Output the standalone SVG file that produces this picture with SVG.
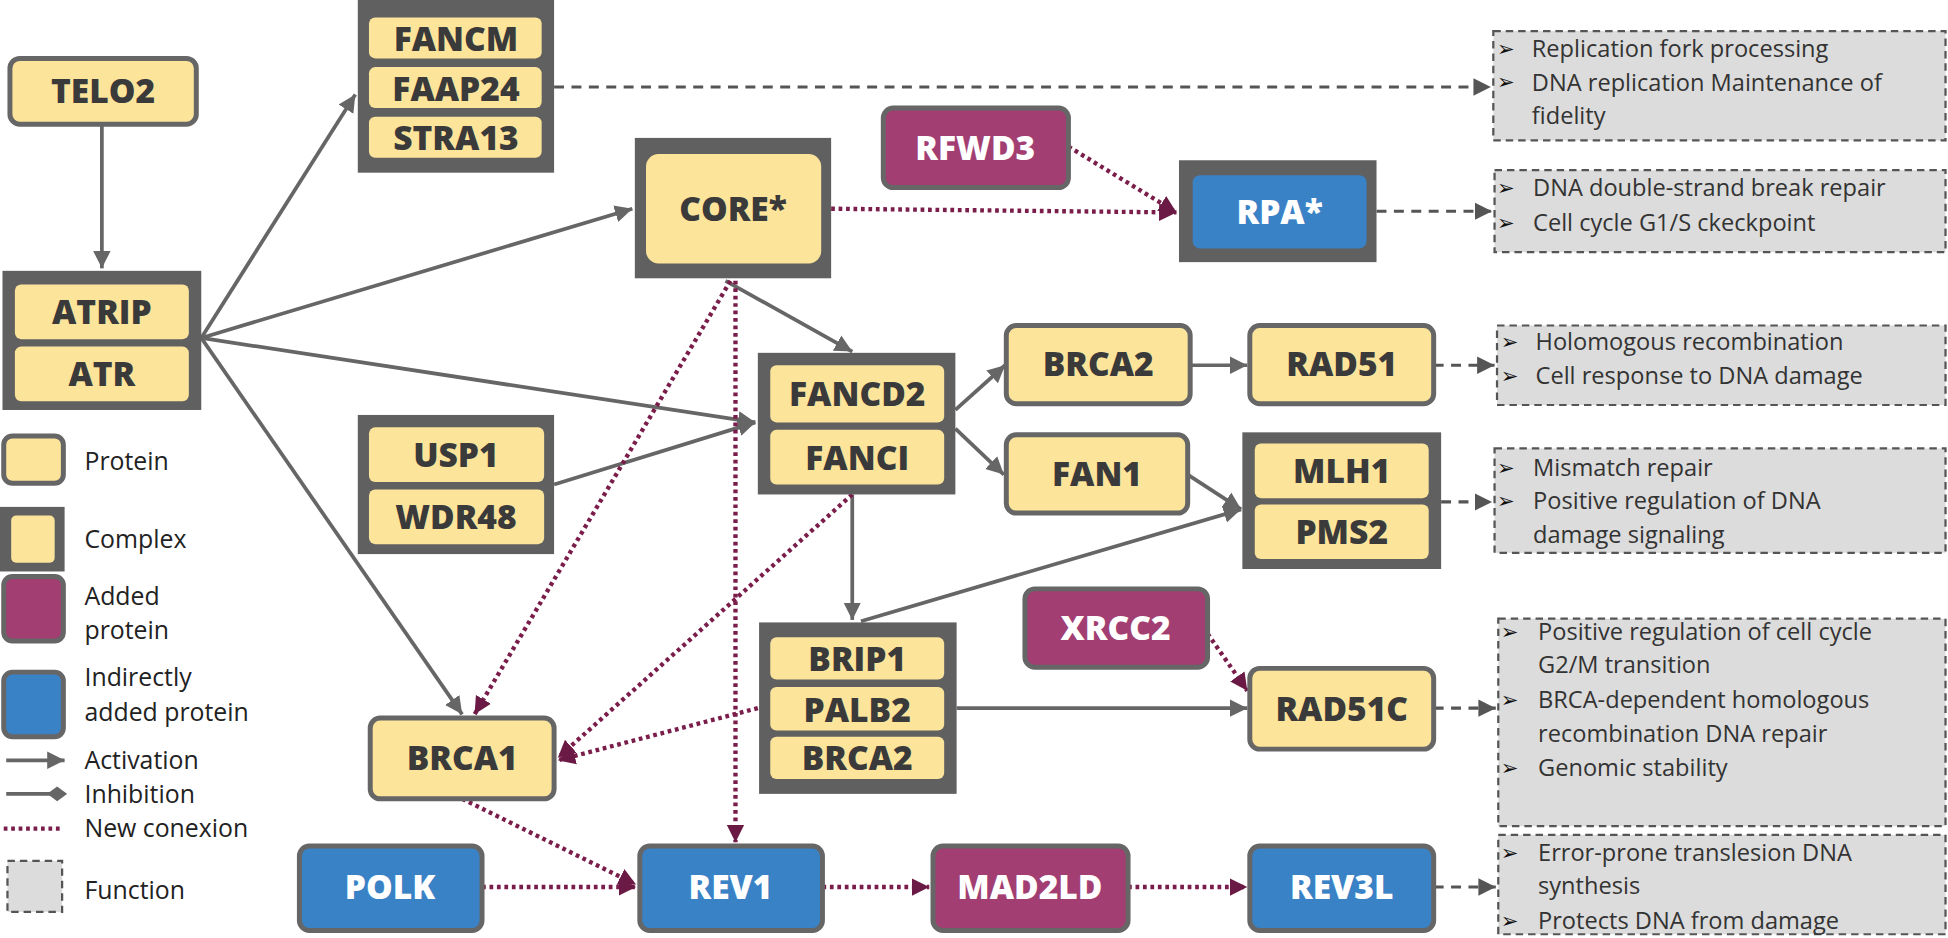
<svg xmlns="http://www.w3.org/2000/svg" width="1948" height="938" viewBox="0 0 1948 938">
<defs>
<style>
.p{fill:#fde49b;stroke:#666;stroke-width:4}
.in{fill:#fde49b;stroke:none}
.cx{fill:#606060}
.ad{fill:#a23e72;stroke:#666;stroke-width:4}
.bl{fill:#3a82c6;stroke:#666;stroke-width:4}
.blin{fill:#3a82c6}
.t{font-family:"Open Sans",sans-serif;font-weight:800;font-size:27px;fill:#3a3a3a;text-anchor:middle}
.tw{font-family:"Open Sans",sans-serif;font-weight:800;font-size:27px;fill:#fff;text-anchor:middle}
.fb{fill:#dcdcdc;stroke:#555;stroke-width:1.8;stroke-dasharray:6 4}
.ft{font-family:"Open Sans",sans-serif;font-size:19px;fill:#333}
.bu{font-family:"DejaVu Sans",sans-serif;font-size:17px;fill:#111}
.lg{font-family:"Open Sans",sans-serif;font-size:20px;fill:#222}
.a{stroke:#666;stroke-width:3;fill:none;marker-end:url(#ma)}
.d{stroke:#7a1d4a;stroke-width:3.5;fill:none;stroke-dasharray:3 3;marker-end:url(#md)}
.f{stroke:#555;stroke-width:2.5;fill:none;stroke-dasharray:8 6;marker-end:url(#mf)}
</style>
<marker id="ma" markerUnits="userSpaceOnUse" markerWidth="16" markerHeight="16" refX="14" refY="8" orient="auto"><path d="M0,1 L14,8 L0,15 Z" fill="#666"/></marker>
<marker id="md" markerUnits="userSpaceOnUse" markerWidth="16" markerHeight="16" refX="14" refY="8" orient="auto"><path d="M0,1 L14,8 L0,15 Z" fill="#6b1a45"/></marker>
<marker id="mf" markerUnits="userSpaceOnUse" markerWidth="16" markerHeight="16" refX="14" refY="8" orient="auto"><path d="M0,1 L14,8 L0,15 Z" fill="#555"/></marker>
<marker id="mi" markerUnits="userSpaceOnUse" markerWidth="16" markerHeight="16" refX="8" refY="8" orient="auto"><path d="M0,8 L8,2 L16,8 L8,14 Z" fill="#666"/></marker>
</defs>
<rect width="1948" height="938" fill="#fff"/>
<g transform="scale(1.24235)">
<g id="connectors">
<line class="a" x1="82" y1="100" x2="82" y2="216"/>
<line class="a" x1="162" y1="272" x2="286" y2="76"/>
<line class="a" x1="162" y1="272" x2="509" y2="168"/>
<line class="a" x1="162" y1="272" x2="608" y2="340"/>
<line class="a" x1="162" y1="272" x2="372" y2="575"/>
<line class="a" x1="446" y1="390" x2="608" y2="340"/>
<line class="a" x1="584" y1="226" x2="686" y2="283"/>
<line class="a" x1="769" y1="330" x2="809" y2="294"/>
<line class="a" x1="769" y1="345" x2="808" y2="382"/>
<line class="a" x1="958" y1="294" x2="1004" y2="294"/>
<line class="a" x1="956" y1="382" x2="999" y2="410"/>
<line class="a" x1="686" y1="398" x2="686" y2="499"/>
<line class="a" x1="693" y1="500" x2="999" y2="410"/>
<line class="a" x1="770" y1="570" x2="1004" y2="570"/>
<line class="f" x1="446" y1="70" x2="1200" y2="70"/>
<line class="f" x1="1108" y1="170" x2="1201" y2="170"/>
<line class="f" x1="1154" y1="294" x2="1203" y2="294"/>
<line class="f" x1="1160" y1="404" x2="1201" y2="404"/>
<line class="f" x1="1154" y1="570" x2="1204" y2="570"/>
<line class="f" x1="1154" y1="714" x2="1204" y2="714"/>
<line class="d" x1="669" y1="168" x2="947" y2="171"/>
<line class="d" x1="860" y1="118" x2="947" y2="171"/>
<line class="d" x1="588" y1="226" x2="382" y2="575"/>
<line class="d" x1="592" y1="226" x2="592" y2="678"/>
<line class="d" x1="686" y1="398" x2="449" y2="610"/>
<line class="d" x1="610" y1="570" x2="449" y2="612"/>
<line class="d" x1="972" y1="510" x2="1004" y2="556"/>
<line class="d" x1="372" y1="643" x2="512" y2="712"/>
<line class="d" x1="388" y1="714" x2="512" y2="714"/>
<line class="d" x1="662" y1="714" x2="748" y2="714"/>
<line class="d" x1="908" y1="714" x2="1004" y2="714"/>
</g>
<g id="TELO2"><rect class="p" x="8" y="47" width="150" height="53" rx="8"/><text class="t" x="83" y="83">TELO2</text></g>
<g id="ATRIP_ATR"><rect class="cx" x="2" y="218" width="160" height="112"/>
<rect class="in" x="12" y="229" width="140" height="44" rx="5"/><text class="t" x="82" y="261">ATRIP</text>
<rect class="in" x="12" y="279" width="140" height="44" rx="5"/><text class="t" x="82" y="311">ATR</text></g>
<g id="FANCM_complex"><rect class="cx" x="288" y="0" width="158" height="139"/>
<rect class="in" x="297" y="14" width="139" height="33" rx="5"/><text class="t" x="367" y="41">FANCM</text>
<rect class="in" x="297" y="54" width="139" height="33" rx="5"/><text class="t" x="367" y="81">FAAP24</text>
<rect class="in" x="297" y="94" width="139" height="33" rx="5"/><text class="t" x="367" y="121">STRA13</text></g>
<g id="CORE"><rect class="cx" x="511" y="111" width="158" height="113"/><rect class="in" x="520" y="124" width="141" height="88" rx="10"/><text class="t" x="590" y="178">CORE*</text></g>
<g id="RFWD3"><rect class="ad" x="711" y="87" width="149" height="64" rx="8"/><text class="tw" x="785" y="129">RFWD3</text></g>
<g id="RPA"><rect class="cx" x="949" y="129" width="159" height="82"/><rect class="blin" x="960" y="141" width="140" height="59" rx="6"/><text class="tw" x="1030" y="180">RPA*</text></g>
<g id="FANCD2_FANCI"><rect class="cx" x="610" y="284" width="159" height="114"/>
<rect class="in" x="620" y="294" width="140" height="46" rx="5"/><text class="t" x="690" y="327">FANCD2</text>
<rect class="in" x="620" y="346" width="140" height="44" rx="5"/><text class="t" x="690" y="378">FANCI</text></g>
<g id="USP1_WDR48"><rect class="cx" x="288" y="334" width="158" height="112"/>
<rect class="in" x="297" y="344" width="141" height="44" rx="5"/><text class="t" x="367" y="376">USP1</text>
<rect class="in" x="297" y="394" width="141" height="44" rx="5"/><text class="t" x="367" y="426">WDR48</text></g>
<g id="BRCA2"><rect class="p" x="810" y="262" width="148" height="63" rx="8"/><text class="t" x="884" y="303">BRCA2</text></g>
<g id="RAD51"><rect class="p" x="1006" y="262" width="148" height="63" rx="8"/><text class="t" x="1080" y="303">RAD51</text></g>
<g id="FAN1"><rect class="p" x="810" y="350" width="146" height="63" rx="8"/><text class="t" x="883" y="391">FAN1</text></g>
<g id="MLH1_PMS2"><rect class="cx" x="1000" y="348" width="160" height="110"/>
<rect class="in" x="1010" y="357" width="140" height="44" rx="5"/><text class="t" x="1080" y="389">MLH1</text>
<rect class="in" x="1010" y="406" width="140" height="44" rx="5"/><text class="t" x="1080" y="438">PMS2</text></g>
<g id="BRIP1_complex"><rect class="cx" x="611" y="501" width="159" height="138"/>
<rect class="in" x="620" y="513" width="140" height="34" rx="5"/><text class="t" x="690" y="540">BRIP1</text>
<rect class="in" x="620" y="553" width="140" height="35" rx="5"/><text class="t" x="690" y="581">PALB2</text>
<rect class="in" x="620" y="593" width="140" height="34" rx="5"/><text class="t" x="690" y="620">BRCA2</text></g>
<g id="XRCC2"><rect class="ad" x="825" y="474" width="147" height="63" rx="8"/><text class="tw" x="898" y="515">XRCC2</text></g>
<g id="RAD51C"><rect class="p" x="1006" y="538" width="148" height="65" rx="8"/><text class="t" x="1080" y="580">RAD51C</text></g>
<g id="BRCA1"><rect class="p" x="298" y="578" width="148" height="65" rx="8"/><text class="t" x="372" y="620">BRCA1</text></g>
<g id="POLK"><rect class="bl" x="241" y="681" width="147" height="68" rx="8"/><text class="tw" x="314" y="724">POLK</text></g>
<g id="REV1"><rect class="bl" x="515" y="681" width="147" height="68" rx="8"/><text class="tw" x="588" y="724">REV1</text></g>
<g id="MAD2LD"><rect class="ad" x="751" y="681" width="157" height="68" rx="8"/><text class="tw" x="829" y="724">MAD2LD</text></g>
<g id="REV3L"><rect class="bl" x="1006" y="681" width="148" height="68" rx="8"/><text class="tw" x="1080" y="724">REV3L</text></g>
<g id="F1"><rect class="fb" x="1202" y="25" width="364" height="88"/>
<text class="bu" x="1205" y="45">➢</text><text class="ft" x="1233" y="46">Replication fork processing</text>
<text class="bu" x="1205" y="72">➢</text><text class="ft" x="1233" y="73">DNA replication Maintenance of</text>
<text class="ft" x="1233" y="100">fidelity</text></g>
<g id="F2"><rect class="fb" x="1203" y="137" width="363" height="66"/>
<text class="bu" x="1205" y="157">➢</text><text class="ft" x="1234" y="158">DNA double-strand break repair</text>
<text class="bu" x="1205" y="185">➢</text><text class="ft" x="1234" y="186">Cell cycle G1/S ckeckpoint</text></g>
<g id="F3"><rect class="fb" x="1205" y="262" width="361" height="64"/>
<text class="bu" x="1208" y="281">➢</text><text class="ft" x="1236" y="282">Holomogous recombination</text>
<text class="bu" x="1208" y="308">➢</text><text class="ft" x="1236" y="309">Cell response to DNA damage</text></g>
<g id="F4"><rect class="fb" x="1203" y="361" width="363" height="84"/>
<text class="bu" x="1205" y="382">➢</text><text class="ft" x="1234" y="383">Mismatch repair</text>
<text class="bu" x="1205" y="409">➢</text><text class="ft" x="1234" y="410">Positive regulation of DNA</text>
<text class="ft" x="1234" y="437">damage signaling</text></g>
<g id="F5"><rect class="fb" x="1206" y="498" width="360" height="167"/>
<text class="bu" x="1208" y="514">➢</text><text class="ft" x="1238" y="515">Positive regulation of cell cycle</text>
<text class="ft" x="1238" y="542">G2/M transition</text>
<text class="bu" x="1208" y="569">➢</text><text class="ft" x="1238" y="570">BRCA-dependent homologous</text>
<text class="ft" x="1238" y="597">recombination DNA repair</text>
<text class="bu" x="1208" y="624">➢</text><text class="ft" x="1238" y="625">Genomic stability</text></g>
<g id="F6"><rect class="fb" x="1206" y="672" width="360" height="80"/>
<text class="bu" x="1208" y="692">➢</text><text class="ft" x="1238" y="693">Error-prone translesion DNA</text>
<text class="ft" x="1238" y="720">synthesis</text>
<text class="bu" x="1208" y="747">➢</text><text class="ft" x="1238" y="748">Protects DNA from damage</text></g>
<g id="legend">
<rect class="p" x="3" y="351" width="48" height="38" rx="7"/><text class="lg" x="68" y="378">Protein</text>
<rect class="cx" x="0" y="408" width="52" height="52"/><rect class="in" x="9" y="415" width="35" height="38" rx="4"/><text class="lg" x="68" y="441">Complex</text>
<rect class="ad" x="3" y="464" width="48" height="52" rx="7"/><text class="lg" x="68" y="487">Added</text><text class="lg" x="68" y="514">protein</text>
<rect class="bl" x="3" y="541" width="48" height="52" rx="7"/><text class="lg" x="68" y="552">Indirectly</text><text class="lg" x="68" y="580">added protein</text>
<line x1="5" y1="612" x2="52" y2="612" stroke="#666" stroke-width="3" marker-end="url(#ma)"/><text class="lg" x="68" y="619">Activation</text>
<line x1="5" y1="639" x2="46" y2="639" stroke="#666" stroke-width="3" marker-end="url(#mi)"/><text class="lg" x="68" y="646">Inhibition</text>
<line x1="3" y1="667" x2="48" y2="667" stroke="#7a1d4a" stroke-width="3.5" stroke-dasharray="3 3"/><text class="lg" x="68" y="674">New conexion</text>
<rect class="fb" x="6" y="693" width="44" height="41"/><text class="lg" x="68" y="724">Function</text>
</g>
</g>
</svg>
